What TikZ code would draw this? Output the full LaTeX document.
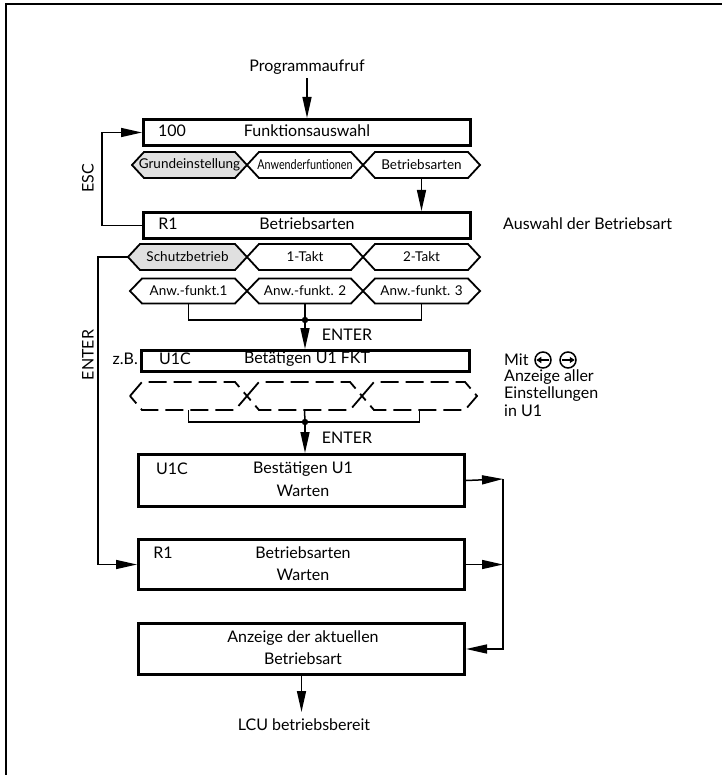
\documentclass[tikz,border=0pt]{standalone}
\usepackage{fontspec}
\setmainfont{Lato}
\usetikzlibrary{arrows.meta,calc}
\definecolor{hexgray}{gray}{0.88}
\tikzset{
  box/.style={draw, line width=3pt, inner sep=0pt, anchor=north west},
  lbl/.style={inner sep=0pt, font=\fontsize{16}{18}\selectfont},
  hexlbl/.style={inner sep=0pt, font=\fontsize{13.5}{15}\selectfont},
  hexline/.style={line width=1.8pt, line join=miter},
  conn/.style={line width=1.5pt},
  arr/.style={line width=1.5pt, -{Triangle[length=21pt,width=9pt]}},
}
\newcommand{\hexnode}[7]{% name, xl, xr, yc, half height, style, text
  \pgfmathsetmacro{\hxa}{#2+12}\pgfmathsetmacro{\hxb}{#3-12}
  \draw[#6] (#2,#4) -- (\hxa,#4-#5) -- (\hxb,#4-#5) -- (#3,#4) -- (\hxb,#4+#5) -- (\hxa,#4+#5) -- cycle;
  \node[hexlbl] (#1) at ({(#2+#3)/2},#4) {#7};
  \coordinate (#1b) at ({(#2+#3)/2},#4+#5);
  \coordinate (#1l) at (#2,#4);
}
\begin{document}
\begin{tikzpicture}[x=1pt,y=-1pt]
\useasboundingbox (0,0) rectangle (722,775);
% frame
\draw[line width=2pt] (6,775) -- (6,4) -- (722,4);

% top
\node[lbl] (prog) at (307,67) {Programmaufruf};
\node[box, minimum width=327pt, minimum height=26pt] (b100) at (142,118) {};
\node[lbl] (b100n) at (172,131) {100};
\node[lbl] (b100t) at (307,131) {Funktionsauswahl};
\draw[arr] (prog.south) ++(0,4) -- (prog.south |- b100.north);

% row 1 hexagons
\hexnode{h1}{132}{247}{165}{13}{hexline, fill=hexgray}{Grundeinstellung}
\hexnode{h2}{247}{363}{165}{13}{hexline}{\scalebox{0.8}[1]{Anwenderfuntionen}}
\hexnode{h3}{363}{480}{165}{13}{hexline}{Betriebsarten}

% R1 box
\node[box, minimum width=327pt, minimum height=26pt] (r1) at (142,211) {};
\node[lbl] (r1n) at (168,224) {R1};
\node[lbl] (r1t) at (307,224) {Betriebsarten};
\draw[arr] (h3b) -- (h3b |- r1.north);
\node[lbl, anchor=west] (ausw) at (503,224) {Auswahl der Betriebsart};

% ESC loop
\draw[arr] (r1.west) -- ++(-40,0) |- (b100.west);
\node[lbl, rotate=90] (esc) at (88,178) {ESC};

% row 2 hexagons
\hexnode{s1}{128}{247}{257}{13}{hexline, fill=hexgray}{Schutzbetrieb}
\hexnode{s2}{247}{363}{257}{13}{hexline}{1-Takt}
\hexnode{s3}{363}{480}{257}{13}{hexline}{2-Takt}

% row 3 hexagons
\hexnode{a1}{130}{247}{291}{12.5}{hexline}{Anw.-funkt.1}
\hexnode{a2}{247}{363}{291}{12.5}{hexline}{Anw.-funkt. 2}
\hexnode{a3}{363}{480}{291}{12.5}{hexline}{Anw.-funkt. 3}

\coordinate (j1) at (305,320);
\draw[conn] (a1b) |- (j1) -| (a3b);
\draw[conn] (a2b) -- (j1);
\fill (j1) circle (3.2);
\node[lbl] (ent1) at (347,335) {ENTER};

% U1C box
\node[box, minimum width=328pt, minimum height=21pt] (u1c) at (140,349) {};
\draw[arr] (j1) -- (j1 |- u1c.north);
\node[lbl, anchor=east] (zb) at (138,359) {z.B.};
\node[lbl] (u1cn) at (175,359) {U1C};
\node[lbl] (u1ct) at (307,359) {Betätigen U1 FKT};

% dashed hexagons
\hexnode{d1}{130}{247}{396}{14}{hexline, dash pattern=on 18pt off 7pt}{}
\hexnode{d2}{247}{362}{396}{14}{hexline, dash pattern=on 18pt off 7pt}{}
\hexnode{d3}{362}{477}{396}{14}{hexline, dash pattern=on 18pt off 7pt}{}

\coordinate (j2) at (305,422);
\draw[conn] (d1b) |- (j2) -| (d3b);
\draw[conn] (d2b) -- (j2);
\fill (j2) circle (3.2);
\node[lbl] (ent2) at (347,438) {ENTER};

% side note
\node[lbl, anchor=west] (mit) at (504,360) {Mit};
\node[circle, draw, line width=1.5pt, minimum size=16pt, inner sep=0pt] (cl) at (543,360) {};
\node[circle, draw, line width=1.5pt, minimum size=16pt, inner sep=0pt] (cr) at (568,360) {};
\draw[line width=1.5pt, -{Triangle[length=5pt,width=6pt]}] ($(cl.east)+(-2.5,0)$) -- ($(cl.west)+(2,0)$);
\draw[line width=1.5pt, -{Triangle[length=5pt,width=6pt]}] ($(cr.west)+(2.5,0)$) -- ($(cr.east)+(-2,0)$);
\node[lbl, anchor=west] (mit2) at (504,377) {Anzeige aller};
\node[lbl, anchor=west] (mit3) at (504,394) {Einstellungen};
\node[lbl, anchor=west] (mit4) at (504,411) {in U1};

% Bestaetigen box
\node[box, minimum width=326pt, minimum height=52pt] (u1w) at (137,453) {};
\draw[arr] (j2) -- (j2 |- u1w.north);
\node[lbl] (u1wn) at (172,469) {U1C};
\node[lbl] (u1wt) at (303,469) {Bestätigen U1};
\node[lbl] (u1ww) at (303,491) {Warten};

% R1 Warten box
\node[box, minimum width=326pt, minimum height=50pt] (r1w) at (137,538) {};
\node[lbl] (r1wn) at (163,553) {R1};
\node[lbl] (r1wt) at (303,553) {Betriebsarten};
\node[lbl] (r1ww) at (303,575) {Warten};

% ENTER loop
\draw[arr] (s1l) -- (98,257) |- (r1w.west);
\node[lbl, rotate=90] (ent3) at (88,355) {ENTER};

% Anzeige box
\node[box, minimum width=326pt, minimum height=51pt] (anz) at (137,622) {};
\node[lbl] (anzt) at (303,638) {Anzeige der aktuellen};
\node[lbl] (anzb) at (303,659) {Betriebsart};

% right collector
\coordinate (rr) at (503,479);
\draw[arr] (u1w.east) -- (rr);
\draw[arr] (r1w.east) -- (r1w.east -| rr);
\draw[arr] (rr) |- (anz.east);

% bottom
\draw[arr] (anz.south) -- ++(0,36);
\node[lbl] (lcu) at (304,725) {LCU betriebsbereit};
\end{tikzpicture}
\end{document}
